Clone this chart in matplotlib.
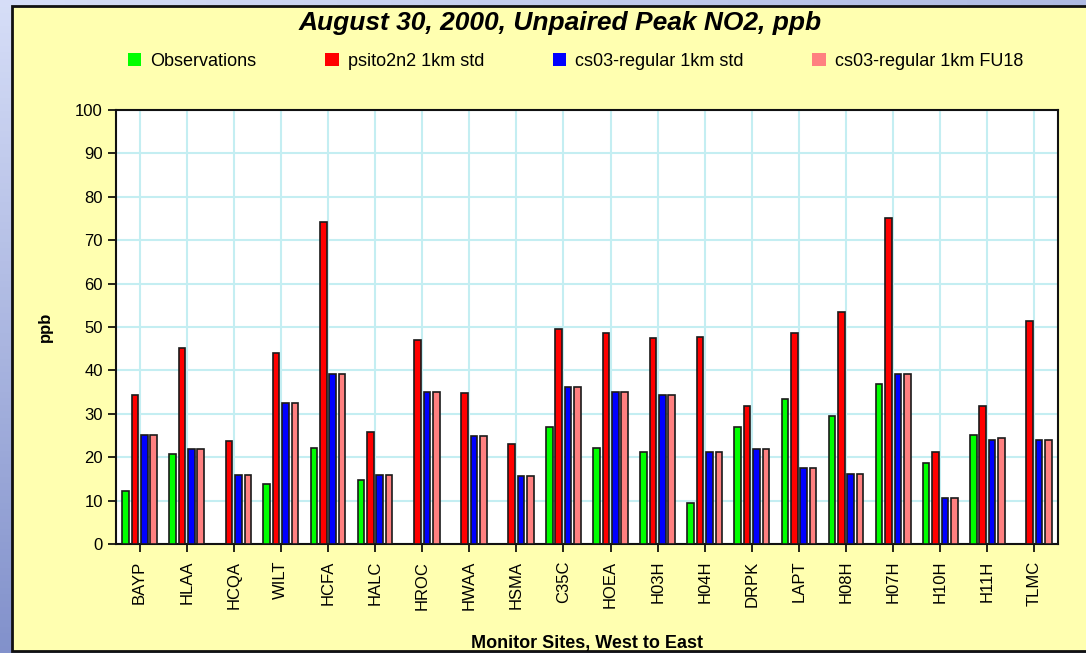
import matplotlib
matplotlib.use("Agg")
import matplotlib.pyplot as plt
import numpy as np
from matplotlib.patches import Rectangle

plt.rcParams["font.family"] = ["Liberation Sans", "DejaVu Sans"]

# monitor sites, west to east
sites = ["BAYP", "HLAA", "HCQA", "WILT", "HCFA", "HALC", "HROC", "HWAA", "HSMA", "C35C",
         "HOEA", "H03H", "H04H", "DRPK", "LAPT", "H08H", "H07H", "H10H", "H11H", "TLMC"]

# peak NO2 (ppb); nan = no observation
observations = [12.1, 20.8, np.nan, 13.8, 22.2, 14.8, np.nan, np.nan, np.nan, 26.9,
                22.2, 21.3, 9.5, 26.9, 33.5, 29.5, 36.9, 18.7, 25.2, np.nan]
psito2n2_std = [34.3, 45.1, 23.8, 43.9, 74.3, 25.7, 47.0, 34.8, 23.0, 49.5,
                48.7, 47.4, 47.8, 31.7, 48.7, 53.4, 75.2, 21.3, 31.7, 51.3]
cs03_std = [25.2, 21.8, 16.0, 32.6, 39.1, 16.0, 35.1, 24.8, 15.6, 36.1,
            35.1, 34.3, 21.3, 21.8, 17.4, 16.1, 39.1, 10.5, 23.9, 23.9]
cs03_fu18 = [25.2, 21.8, 16.0, 32.6, 39.1, 16.0, 35.1, 24.8, 15.6, 36.1,
             35.1, 34.3, 21.3, 21.8, 17.4, 16.1, 39.1, 10.5, 24.4, 23.9]

series = [
    ("Observations", observations, "#00ff00"),
    ("psito2n2 1km std", psito2n2_std, "#ff0000"),
    ("cs03-regular 1km std", cs03_std, "#0000ff"),
    ("cs03-regular 1km FU18", cs03_fu18, "#ff8080"),
]

fig = plt.figure(figsize=(10.86, 6.53), dpi=100)

# blue gradient backdrop
bg = fig.add_axes([0, 0, 1, 1], zorder=-10)
bg.set_axis_off()
yy, xx = np.mgrid[0:1:100j, 0:1:100j]
light = np.array([0.84, 0.87, 0.97])
dark = np.array([0.40, 0.47, 0.74])
t = np.clip(0.75 * yy + 0.35 * xx, 0, 1)[..., None]
grad = light * (1 - t) + dark * t
bg.imshow(grad, extent=[0, 1, 0, 1], aspect="auto", origin="upper")
bg.set_xlim(0, 1)
bg.set_ylim(0, 1)

# yellow panel
fig.patches.append(Rectangle((12 / 1086, 2 / 653), 1.0, 645 / 653, transform=fig.transFigure,
                             facecolor="#ffffb0", edgecolor="#111111", linewidth=2.0, zorder=-5))

ax = fig.add_axes([116 / 1086, 1 - 544 / 653, 942 / 1086, 434 / 653])
ax.set_facecolor("white")

x = np.arange(len(sites))
slot = 0.2
width = 0.14
for i, (name, vals, color) in enumerate(series):
    vals = np.array(vals, dtype=float)
    ok = ~np.isnan(vals)
    off = (i - 1.5) * slot
    ax.bar(x[ok] + off, vals[ok], width, color=color, edgecolor="#1a1a1a",
           linewidth=1.2, zorder=3, label=name)

ax.set_xlim(-0.5, len(sites) - 0.5)
ax.set_ylim(0, 100)
ax.set_yticks(np.arange(0, 101, 10))
ax.set_xticks(x)
ax.set_xticklabels(sites, rotation=90, fontsize=12)
ax.tick_params(axis="y", labelsize=12, length=6, width=1.2, direction="out")
ax.tick_params(axis="x", length=6, width=1.2, direction="out", pad=6)
ax.grid(True, color="#c4eef2", linewidth=1.5, zorder=0)
ax.set_axisbelow(True)
for s in ax.spines.values():
    s.set_linewidth(1.5)
    s.set_color("#111111")

ax.set_ylabel("ppb", fontsize=12, fontweight="bold", labelpad=16)
ax.set_xlabel("Monitor Sites, West to East", fontsize=13, fontweight="bold", labelpad=18)

fig.text(0.516, 1 - 23 / 653, "August 30, 2000, Unpaired Peak NO2, ppb", ha="center", va="center",
         fontsize=19, fontweight="bold", fontstyle="italic")

handles, labels = ax.get_legend_handles_labels()
leg = fig.legend(handles, labels, loc="center", bbox_to_anchor=(0.530, 1 - 61 / 653), ncol=4,
                 frameon=False, fontsize=13, handlelength=0.75, handleheight=0.75,
                 handletextpad=0.5, columnspacing=3.8)
for h in leg.legend_handles:
    h.set_edgecolor("none")

fig.savefig("out.png", dpi=100)
